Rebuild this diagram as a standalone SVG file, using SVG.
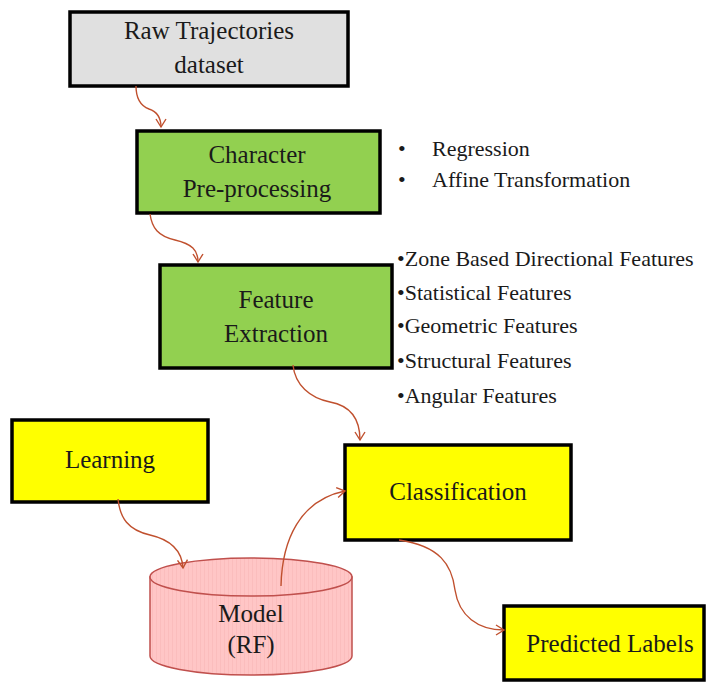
<svg xmlns="http://www.w3.org/2000/svg" width="707" height="682" viewBox="0 0 707 682">
<style>
.box{stroke:#000;stroke-width:3.5}
.t{font-family:"Liberation Serif",serif;font-size:25px;fill:#1a1a1a;text-anchor:middle}
.l{font-family:"Liberation Serif",serif;font-size:22px;fill:#1a1a1a}
.c{fill:none;stroke:#c0502e;stroke-width:1.4}
</style>
<defs>
<marker id="ah" markerWidth="12" markerHeight="12" refX="10" refY="6" orient="auto" markerUnits="userSpaceOnUse">
<polyline points="2,1 10,6 2,11" fill="none" stroke="#c0502e" stroke-width="1.4"/>
</marker>
<pattern id="stripe" width="4" height="10" patternUnits="userSpaceOnUse">
<rect width="4" height="10" fill="#ffc6c6"/>
<rect width="1" height="10" fill="#fbbdbd"/>
</pattern>
</defs>
<rect width="707" height="682" fill="#fff"/>
<g id="raw">
<rect class="box" x="70" y="12" width="278" height="74" fill="#e0e0e0"/>
<text class="t" x="209" y="39">Raw Trajectories</text>
<text class="t" x="209" y="73">dataset</text>
</g>
<g id="preproc">
<rect class="box" x="137" y="131" width="243" height="82" fill="#92d050"/>
<text class="t" x="257" y="163">Character</text>
<text class="t" x="257" y="197">Pre-processing</text>
</g>
<g id="preproc-list">
<text class="l" x="398" y="156">•</text>
<text class="l" x="432" y="156">Regression</text>
<text class="l" x="398" y="187">•</text>
<text class="l" x="432" y="187">Affine Transformation</text>
</g>
<g id="feature">
<rect class="box" x="160" y="265" width="232" height="103" fill="#92d050"/>
<text class="t" x="276" y="308">Feature</text>
<text class="t" x="276" y="342">Extraction</text>
</g>
<g id="feature-list">
<text class="l" x="397" y="266">•Zone Based Directional Features</text>
<text class="l" x="397" y="300">•Statistical Features</text>
<text class="l" x="397" y="333">•Geometric Features</text>
<text class="l" x="397" y="368">•Structural Features</text>
<text class="l" x="397" y="403">•Angular Features</text>
</g>
<g id="learning">
<rect class="box" x="12" y="420" width="196" height="82" fill="#ffff00"/>
<text class="t" x="110" y="468">Learning</text>
</g>
<g id="classification">
<rect class="box" x="345" y="445" width="226" height="95" fill="#ffff00"/>
<text class="t" x="458" y="500">Classification</text>
</g>
<g id="model">
<path d="M150,577 L150,656 A101,19 0 0 0 352,656 L352,577 Z" fill="url(#stripe)" stroke="#c0504d" stroke-width="1.5"/>
<ellipse cx="251" cy="577" rx="101" ry="19" fill="url(#stripe)" stroke="#c0504d" stroke-width="1.5"/>
<text class="t" x="251" y="622">Model</text>
<text class="t" x="251" y="653">(RF)</text>
</g>
<g id="predicted">
<rect class="box" x="504" y="606" width="200" height="74" fill="#ffff00"/>
<text class="t" x="610" y="652">Predicted Labels</text>
</g>
<g id="connectors">
<path class="c" marker-end="url(#ah)" d="M136,86 C136,100 141,106 149,109 C158,112 161,118 161,127"/>
<path class="c" marker-end="url(#ah)" d="M150,214 C152,228 158,236 175,240 C192,244 198,250 198,262"/>
<path class="c" marker-end="url(#ah)" d="M293,365 C295,385 310,398 330,402 C352,406 360,420 360,440"/>
<path class="c" marker-end="url(#ah)" d="M118,499 C120,518 128,530 150,535 C172,540 182,552 183,568"/>
<path class="c" marker-end="url(#ah)" d="M281,586 C282,540 300,500 345,491"/>
<path class="c" marker-end="url(#ah)" d="M399,540 C440,546 452,565 455,590 C459,616 478,630 504,630"/>
</g>
</svg>
